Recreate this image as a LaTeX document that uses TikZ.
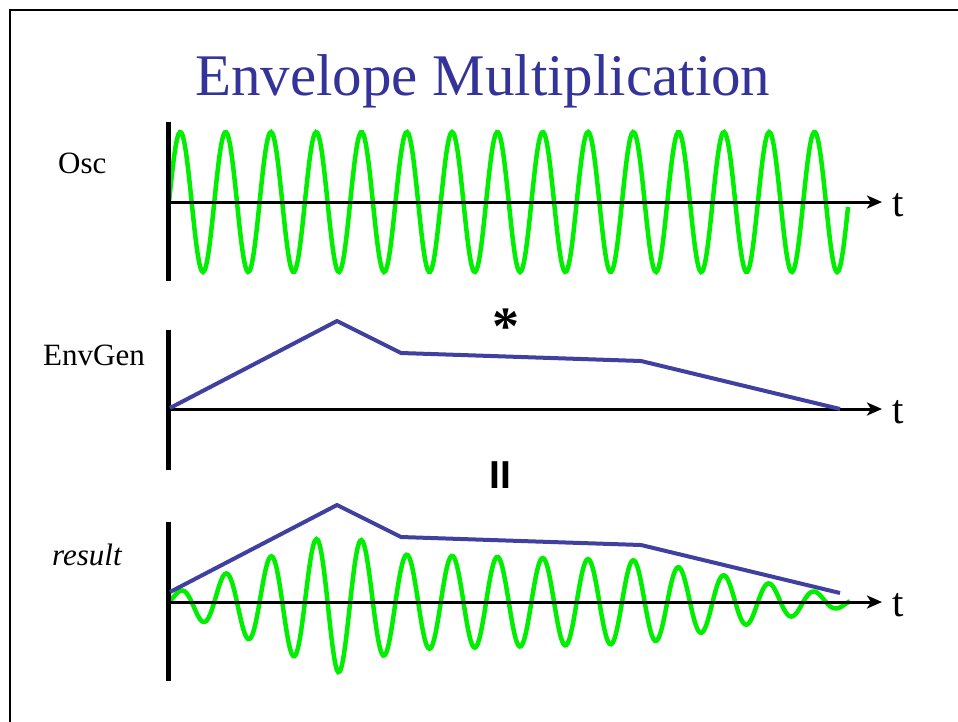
\documentclass[tikz,border=0pt]{standalone}
\usepackage{fontspec}
\setmainfont{Liberation Serif}
\newfontfamily\barsans{Liberation Sans}
\usepackage{tikz}
\usetikzlibrary{arrows.meta}
\definecolor{oscgreen}{RGB}{0,238,0}
\definecolor{envblue}{RGB}{64,64,160}
\definecolor{titleblue}{RGB}{51,51,153}

\begin{document}
\begin{tikzpicture}[x=1pt,y=-1pt,
  vaxis/.style={line width=5pt},
  taxis/.style={line width=3pt,-{Stealth[length=15pt,width=13pt,inset=4pt]}},
  wave/.style={oscgreen,line width=4.5pt},
  envline/.style={envblue,line width=4pt,line join=round},
  siglabel/.style={font=\fontsize{31}{31}\selectfont,anchor=base west,inner sep=0pt},
  tlabel/.style={font=\fontsize{41}{41}\selectfont,anchor=base west,inner sep=0pt},
  declare function={envh(\u)=(\u<337) ? (10+(\u-170)/167*87) : ((\u<401) ? (97-(\u-337)/64*32) : ((\u<641) ? (65-(\u-401)/240*8) : (57-(\u-641)/199*49)));}]
\useasboundingbox (0,0) rectangle (958,721);
\draw[line width=2.5pt] (10,725) -- (10,10) -- (962,10);

\node[titleblue,font=\fontsize{59}{59}\selectfont,anchor=base west,inner sep=0pt] (title) at (195,95) {Envelope Multiplication};

% signal labels
\node[siglabel] (osc) at (58,173) {Osc};
\node[siglabel] (envgen) at (43,365) {EnvGen};
\node[siglabel,font=\fontsize{31}{31}\selectfont\itshape] (result) at (52,565) {result};

% green waves
\draw[wave] plot[domain=169:848,samples=500,smooth] (\x,{202-70*sin((\x-169)*7.947)});
\draw[wave] plot[domain=169:850,samples=500,smooth] (\x,{602-0.73*envh(\x)*sin((\x-169)*7.947)});

% axes
\foreach \name/\top/\mid/\bot in {oscax/122/202/281, genax/330/409/470, resax/522/602/681} {
  \coordinate (\name-top) at (168,\top);
  \coordinate (\name-bot) at (168,\bot);
  \coordinate (\name-o) at (166,\mid);
  \coordinate (\name-end) at (882,\mid);
  \draw[vaxis] (\name-top) -- (\name-bot);
  \draw[taxis] (\name-o) -- (\name-end);
  \node[tlabel] (\name-t) at (892,\mid+14) {t};
}

% envelopes
\foreach \name/\off in {genenv/0, resenv/184} {
  \coordinate (\name-a) at (170,408+\off);
  \coordinate (\name-b) at (337,321+\off);
  \coordinate (\name-c) at (401,353+\off);
  \coordinate (\name-d) at (641,361+\off);
  \coordinate (\name-e) at (840,409+\off);
  \draw[envline] (\name-a) -- (\name-b) -- (\name-c) -- (\name-d) -- (\name-e);
}

\node[font=\fontsize{54}{54}\selectfont\bfseries,anchor=base,inner sep=0pt] (times) at (506,344) {*};
\node[font=\barsans\fontsize{39}{39}\selectfont\bfseries,anchor=base,inner sep=0pt] (equals) at (500,488) {II};
\end{tikzpicture}
\end{document}
